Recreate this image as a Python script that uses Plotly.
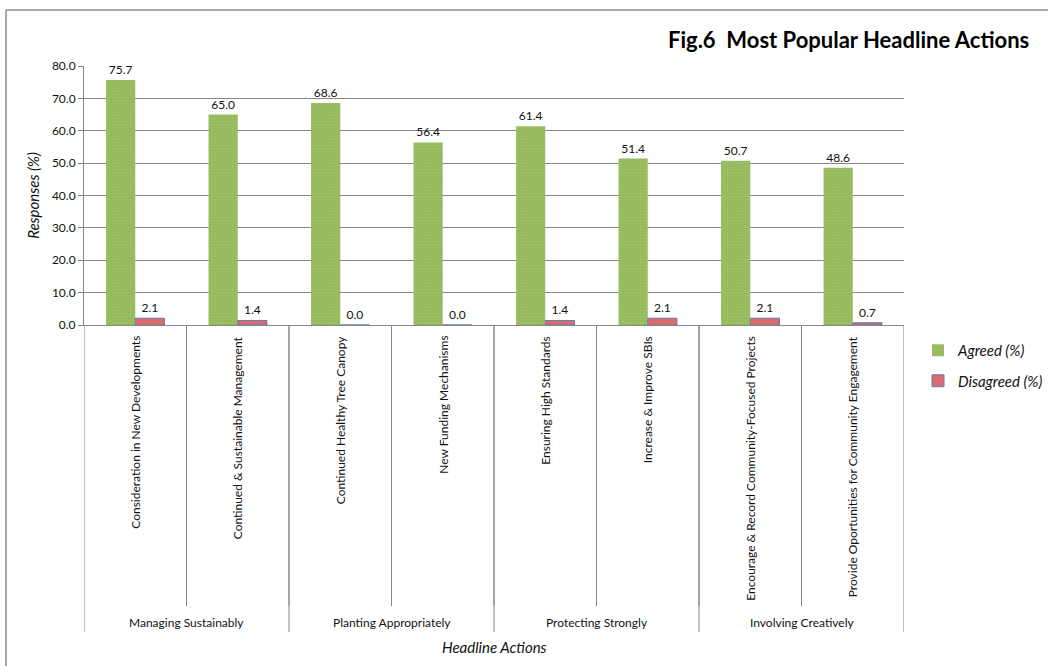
import plotly.graph_objects as go

categories = [
    "Consideration in New Developments",
    "Continued & Sustainable Management",
    "Continued Healthy Tree Canopy",
    "New Funding Mechanisms",
    "Ensuring High Standards",
    "Increase & Improve SBIs",
    "Encourage & Record Community-Focused Projects",
    "Provide Oportunities for Community Engagement",
]
groups = ["Managing Sustainably", "Planting Appropriately", "Protecting Strongly", "Involving Creatively"]
group_sizes = [2, 2, 2, 2]
agreed = [75.7, 65.0, 68.6, 56.4, 61.4, 51.4, 50.7, 48.6]
disagreed = [2.1, 1.4, 0.0, 0.0, 1.4, 2.1, 2.1, 0.7]
y_ticks = [0, 10, 20, 30, 40, 50, 60, 70, 80]

FONT = "Lato"
GRID = "#868686"

W, H = 1048, 666
L, R, T, B = 84, 144, 66, 341
plot_w = W - L - R
plot_h = H - T - B


def py(p):
    return (H - B - p) / plot_h


def px(p):
    return (p - L) / plot_w


fig = go.Figure()
fig.add_trace(go.Bar(
    name="<i>Agreed (%)</i>", x=list(range(len(categories))), y=agreed,
    marker=dict(color="#95BA5B", line=dict(width=0),
                pattern=dict(shape=".", fgcolor="#A9C878", bgcolor="#95BA5B", size=3, solidity=0.3)),
    text=[f"{v:.1f}" for v in agreed], textposition="outside",
    textfont=dict(family=FONT, size=12, color="#111111"), cliponaxis=False,
    legendgroup="a",
))
fig.add_trace(go.Bar(
    name="<i>Disagreed (%)</i>", x=list(range(len(categories))), y=disagreed,
    marker=dict(color="#E0696A", line=dict(width=1, color="#5B7DBD")),
    text=[f"{v:.1f}" for v in disagreed], textposition="outside",
    textfont=dict(family=FONT, size=12, color="#111111"), cliponaxis=False,
    legendgroup="b",
))

n = len(categories)
annotations = []

# Category separators below axis (inner)
for i in range(1, n):
    fig.add_shape(type="line", xref="x", yref="paper", x0=i - 0.5, x1=i - 0.5,
                  y0=0, y1=py(606), line=dict(color=GRID, width=1))
# Group separators
bounds = [0]
for s in group_sizes:
    bounds.append(bounds[-1] + s)
for b in bounds:
    fig.add_shape(type="line", xref="x", yref="paper", x0=b - 0.5, x1=b - 0.5,
                  y0=0, y1=py(632), line=dict(color=GRID, width=1))

# Category labels
for i, c in enumerate(categories):
    annotations.append(dict(x=i, y=py(334), xref="x", yref="paper", text=c, textangle=-90,
                            showarrow=False, xanchor="center", yanchor="top",
                            font=dict(family=FONT, size=12, color="#111111")))
# Group labels
for gi, g in enumerate(groups):
    cx = (bounds[gi] + bounds[gi + 1] - 1) / 2
    annotations.append(dict(x=cx, y=py(622), xref="x", yref="paper", text=g, showarrow=False,
                            xanchor="center", yanchor="middle",
                            font=dict(family=FONT, size=12, color="#111111")))

# Axis title
annotations.append(dict(x=(n - 1) / 2, y=py(647), xref="x", yref="paper", text="<i>Headline Actions</i>",
                        showarrow=False, xanchor="center", yanchor="middle",
                        font=dict(family=FONT, size=15, color="#111111")))
# Chart title
annotations.append(dict(x=px(1031), y=py(40), xref="paper", yref="paper",
                        text="<b>Fig.6  Most Popular Headline Actions</b>", showarrow=False,
                        xanchor="right", yanchor="middle",
                        font=dict(family=FONT, size=22, color="#000000")))

# Outer border (extends beyond the right and bottom)
fig.add_shape(type="line", xref="paper", yref="paper", x0=px(6), x1=px(1100),
              y0=py(10), y1=py(10), line=dict(color="#8a8a8a", width=1.5))
fig.add_shape(type="line", xref="paper", yref="paper", x0=px(6), x1=px(6),
              y0=py(10), y1=py(700), line=dict(color="#8a8a8a", width=1.5))

fig.update_layout(
    width=W, height=H,
    margin=dict(l=L, r=R, t=T, b=B, autoexpand=False),
    paper_bgcolor="white", plot_bgcolor="white",
    barmode="group", bargap=0.43, bargroupgap=0,
    font=dict(family=FONT, size=12, color="#111111"),
    annotations=annotations,
    showlegend=True,
    legend=dict(x=px(918), y=py(334), xanchor="left", yanchor="top",
                font=dict(family=FONT, size=15, color="#111111"),
                traceorder="grouped", tracegroupgap=8, bgcolor="rgba(0,0,0,0)"),
    xaxis=dict(range=[-0.5, n - 0.5], showticklabels=False, showgrid=False, zeroline=False,
               showline=True, linecolor=GRID, linewidth=1, ticks=""),
    yaxis=dict(range=[0, 80], tickvals=y_ticks, ticktext=[f"{v:.1f}" for v in y_ticks],
               showgrid=True, gridcolor=GRID, gridwidth=1, zeroline=False,
               showline=True, linecolor=GRID, linewidth=1, ticks="outside", ticklen=5, tickcolor=GRID,
               tickfont=dict(family=FONT, size=12, color="#111111"),
               title=dict(text="<i>Responses (%)</i>", font=dict(family=FONT, size=15, color="#111111"),
                          standoff=8)),
)

fig.write_html("out.html", config={"displayModeBar": False},
               post_script="document.body.style.margin='0';")
